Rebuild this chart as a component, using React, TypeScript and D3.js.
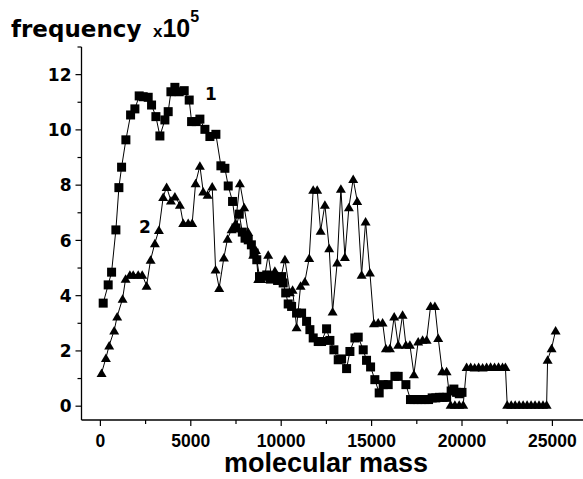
import React from "react";
import * as d3 from "d3";

const W = 583;
const H = 479;

// series 1 (squares): [molecular mass, frequency x10^5]
const series1: [number, number][] = [
  [155, 3.73], [431, 4.39], [619, 4.85], [857, 6.38], [1023, 7.91], [1172, 8.65],
  [1410, 9.64], [1670, 10.54], [1908, 10.76], [2146, 11.23], [2367, 11.2], [2644, 11.18],
  [2830, 10.9], [3070, 10.48], [3291, 9.78], [3567, 10.36], [3750, 10.66], [3900, 11.38],
  [4120, 11.54], [4360, 11.38], [4635, 11.42], [4912, 11.08], [5044, 10.3], [5300, 10.3],
  [5503, 10.39], [5780, 10.02], [6056, 9.76], [6388, 9.84], [6665, 8.7], [6886, 8.61],
  [7070, 7.97], [7310, 7.41], [7500, 6.45], [7680, 6.95], [7850, 6.3], [8000, 6.08],
  [8177, 6.02], [8350, 5.84], [8500, 5.54], [8650, 5.3], [8800, 4.69], [9000, 4.7],
  [9200, 4.75], [9400, 4.6], [9600, 4.7], [9800, 4.55], [10022, 4.69], [10110, 4.46],
  [10250, 4.1], [10387, 3.7], [10575, 3.61], [10850, 3.37], [11128, 3.37], [11404, 3.07],
  [11587, 2.77], [11770, 2.47], [12047, 2.34], [12232, 2.34], [12510, 2.8], [12693, 2.38],
  [12915, 2.04], [13154, 1.68], [13341, 1.71], [13617, 1.36], [13800, 1.98], [14076, 2.47],
  [14260, 2.5], [14536, 2.04], [14720, 1.66], [14944, 1.42], [15180, 0.96], [15420, 0.48],
  [15642, 0.78], [15918, 0.78], [16289, 1.08], [16471, 1.08], [16897, 0.78], [17150, 0.24],
  [17350, 0.24], [17550, 0.24], [17750, 0.24], [17950, 0.24], [18150, 0.24], [18350, 0.3],
  [18550, 0.3], [18750, 0.32], [18950, 0.32], [19150, 0.32], [19400, 0.55], [19550, 0.62],
  [19700, 0.5], [19850, 0.45], [20000, 0.5],
];

// series 2 (triangles)
const series2: [number, number][] = [
  [66, 1.2], [304, 1.74], [487, 2.2], [763, 2.74], [929, 3.25], [1228, 3.89], [1394, 4.61],
  [1632, 4.76], [1814, 4.76], [2091, 4.76], [2312, 4.76], [2555, 4.36], [2777, 5.3],
  [3014, 5.9], [3236, 6.38], [3473, 7.57], [3662, 7.93], [3900, 7.44], [4120, 7.59],
  [4397, 7.29], [4580, 6.63], [4856, 6.63], [5077, 6.63], [5265, 8.07], [5503, 8.7],
  [5686, 7.77], [5929, 7.65], [6184, 7.95], [6371, 4.95], [6571, 4.28], [6831, 5.38],
  [7033, 6.06], [7255, 6.4], [7476, 6.62], [7715, 8.07], [7953, 7.2], [8177, 6.3],
  [8452, 5.48], [8600, 5.65], [8729, 4.6], [8900, 4.6], [9100, 4.75], [9281, 5.48],
  [9450, 4.75], [9650, 4.9], [9850, 4.6], [10000, 4.7], [10205, 5.32], [10481, 4.12],
  [10630, 4.21], [10851, 2.86], [11072, 4.36], [11310, 4.51], [11549, 5.36], [11770, 7.83],
  [11991, 7.83], [12180, 6.35], [12417, 7.29], [12655, 5.72], [12843, 3.43], [13097, 5.2],
  [13302, 7.87], [13523, 5.4], [13744, 7.2], [13983, 8.22], [14204, 7.43], [14447, 4.76],
  [14668, 6.68], [14906, 4.84], [15127, 3.0], [15365, 3.03], [15608, 3.03], [15790, 2.1],
  [16012, 2.1], [16250, 3.25], [16471, 2.22], [16714, 3.31], [16897, 2.22], [17118, 2.22],
  [17340, 1.16], [17577, 2.34], [17820, 2.4], [18042, 2.4], [18263, 3.63], [18500, 3.63],
  [18684, 2.47], [18905, 1.26], [19148, 1.26], [19370, 0.05], [19607, 0.05], [19845, 0.05],
  [20066, 0.05], [20254, 1.42], [20480, 1.42], [20700, 1.4], [20920, 1.42], [21140, 1.4],
  [21360, 1.42], [21580, 1.43], [21800, 1.42], [22020, 1.43], [22240, 1.42], [22400, 1.42],
  [22500, 0.05], [22720, 0.05], [22940, 0.05], [23160, 0.05], [23380, 0.05], [23600, 0.05],
  [23820, 0.05], [24040, 0.05], [24260, 0.05], [24480, 0.05], [24680, 0.05], [24734, 1.68],
  [24956, 2.1], [25177, 2.74],
];

const xMajor = [0, 5000, 10000, 15000, 20000, 25000];
const xMinor = [2500, 7500, 12500, 17500, 22500];
const yMajor = [0, 2, 4, 6, 8, 10, 12];
const yMinor = [1, 3, 5, 7, 9, 11, 13];

const xLabel = "molecular mass";
const yLabel = "frequency";
const seriesLabels = ["1", "2"];

export default function App() {
  const x = d3.scaleLinear().domain([-1045, 26692]).range([81.5, 583]);
  const y = d3.scaleLinear().domain([-0.5, 13]).range([420, 47]);
  const line = d3
    .line<[number, number]>()
    .x((d) => x(d[0]))
    .y((d) => y(d[1]));
  const lib = "'Liberation Sans', Arial, sans-serif";
  const dej = "'DejaVu Sans', sans-serif";
  const x0 = x.range()[0];
  const yb = y.range()[0];
  const tri = (cx: number, cy: number) =>
    `M${cx - 5},${cy + 4} L${cx + 5},${cy + 4} L${cx},${cy - 4.5} Z`;

  return (
    <svg
      width={W}
      height={H}
      style={{ position: "absolute", left: 0, top: 0, background: "#fff" }}
      fontFamily={lib}
    >
      <rect width={W} height={H} fill="#fff" />
      {/* axes */}
      <line x1={x0} x2={x0} y1={y.range()[1]} y2={yb} stroke="#000" strokeWidth={1.3} />
      <line x1={x0} x2={x.range()[1]} y1={yb} y2={yb} stroke="#000" strokeWidth={1.3} />
      {yMajor.map((v) => (
        <g key={"ym" + v}>
          <line x1={x0 - 6} x2={x0} y1={y(v)} y2={y(v)} stroke="#000" strokeWidth={1.2} />
          <text
            x={x0 - 10}
            y={y(v)}
            dy="0.36em"
            textAnchor="end"
            fontSize={17}
            fontWeight="bold"
            fontFamily={dej}
          >
            {v}
          </text>
        </g>
      ))}
      {yMinor.map((v) => (
        <line key={"yn" + v} x1={x0 - 4} x2={x0} y1={y(v)} y2={y(v)} stroke="#000" strokeWidth={1.2} />
      ))}
      {xMajor.map((v) => (
        <g key={"xm" + v}>
          <line x1={x(v)} x2={x(v)} y1={yb} y2={yb + 6} stroke="#000" strokeWidth={1.2} />
          <text x={x(v)} y={447} textAnchor="middle" fontSize={17.5} fontWeight="bold">
            {v}
          </text>
        </g>
      ))}
      {xMinor.map((v) => (
        <line key={"xn" + v} x1={x(v)} x2={x(v)} y1={yb} y2={yb + 4} stroke="#000" strokeWidth={1.2} />
      ))}

      {/* series lines */}
      <path d={line(series2) || ""} fill="none" stroke="#000" strokeWidth={1} />
      <path d={line(series1) || ""} fill="none" stroke="#000" strokeWidth={1} />
      {series2.map((d, i) => (
        <path key={"t" + i} d={tri(x(d[0]), y(d[1]))} fill="#000" />
      ))}
      {series1.map((d, i) => (
        <rect
          key={"s" + i}
          x={x(d[0]) - 4.5}
          y={y(d[1]) - 4.5}
          width={9}
          height={9}
          fill="#000"
        />
      ))}

      {/* series labels */}
      <text x={211} y={100} textAnchor="middle" fontSize={17} fontWeight="bold" fontFamily={dej}>
        {seriesLabels[0]}
      </text>
      <text x={145} y={233} textAnchor="middle" fontSize={17} fontWeight="bold" fontFamily={dej}>
        {seriesLabels[1]}
      </text>

      {/* axis titles */}
      <text x={326} y={472} textAnchor="middle" fontSize={27} fontWeight="bold">
        {xLabel}
      </text>
      <text x={11} y={37} fontSize={23} fontWeight="bold" fontFamily={dej}>
        {yLabel}
      </text>
      <text x={153} y={37} fontWeight="bold">
        <tspan fontSize={17}>x</tspan>
        <tspan fontSize={25}>10</tspan>
        <tspan fontSize={16} dy={-15}>5</tspan>
      </text>
    </svg>
  );
}
